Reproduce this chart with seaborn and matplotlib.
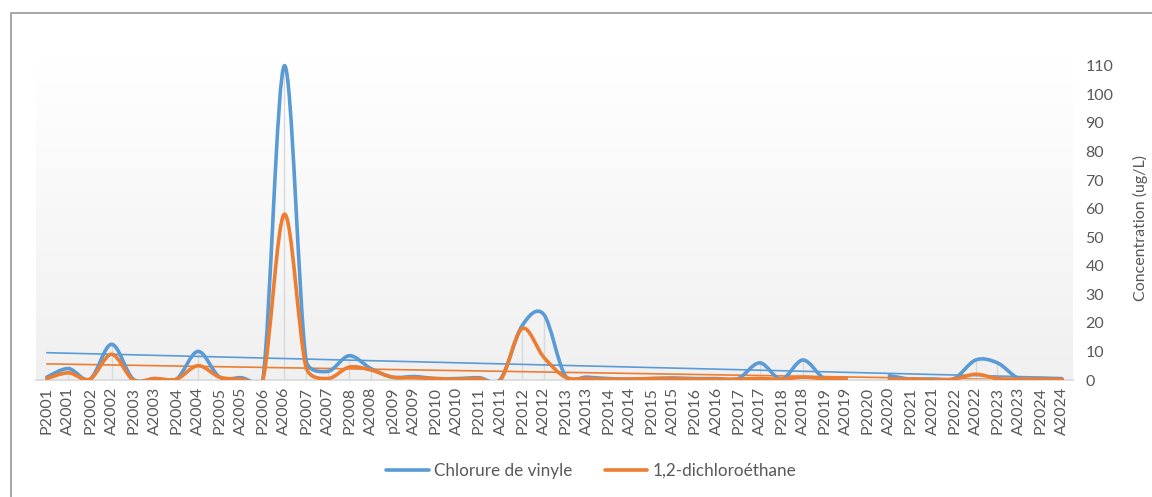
import numpy as np
import matplotlib
matplotlib.use("Agg")
import matplotlib.pyplot as plt
import seaborn as sns
from matplotlib.path import Path
from matplotlib.patches import PathPatch
from matplotlib.lines import Line2D

# --- données ---
periods = ["P2001", "A2001", "P2002", "A2002", "P2003", "A2003", "P2004", "A2004",
           "P2005", "A2005", "P2006", "A2006", "P2007", "A2007", "P2008", "A2008",
           "p2009", "A2009", "P2010", "A2010", "P2011", "A2011", "P2012", "A2012",
           "P2013", "A2013", "P2014", "A2014", "P2015", "A2015", "P2016", "A2016",
           "P2017", "A2017", "P2018", "A2018", "P2019", "A2019", "P2020", "A2020",
           "P2021", "A2021", "P2022", "A2022", "P2023", "A2023", "P2024", "A2024"]

chlorure_vinyle = [1.0, 4.0, 0.3, 12.5, 0.3, 0.5, 0.3, 10.0,
                   1.0, 0.8, 0.0, 110.0, 7.0, 3.0, 8.5, 4.0,
                   1.0, 1.2, 0.5, 0.5, 0.8, 0.3, 19.0, 23.0,
                   1.5, 1.0, 0.5, 0.3, 0.5, 0.7, 0.5, 0.5,
                   0.5, 6.0, 0.3, 7.0, 0.5, 0.5, np.nan, 1.5,
                   0.3, 0.3, 0.5, 7.0, 6.0, 0.5, 0.5, 0.3]

dichloroethane = [0.5, 2.5, 0.3, 9.0, 0.0, 0.5, 0.3, 5.0,
                  1.0, 0.3, 0.0, 58.0, 4.5, 0.5, 4.5, 3.5,
                  1.0, 0.8, 0.5, 0.3, 0.5, 0.0, 18.0, 8.0,
                  1.0, 0.5, 0.3, 0.3, 0.5, 0.5, 0.3, 0.3,
                  0.3, 0.5, 0.3, 1.0, 0.5, 0.5, np.nan, 0.3,
                  0.3, 0.0, 0.3, 2.0, 0.5, 0.3, 0.3, 0.2]

y_ticks = list(range(0, 111, 10))

BLUE = "#5B9BD5"
ORANGE = "#ED7D31"
TXT = "#595959"

sns.set_theme(style="white")
plt.rcParams["font.family"] = ["Lato", "DejaVu Sans"]

W, H = 1152, 497
AX_L, AX_R, AX_B, AX_T = 36, 1073, 380, 60
YMAX = 112


def smooth_path(xs, ys, sx, sy):
    # courbe lissée façon Excel : Bézier type Catmull-Rom, tangentes bornées
    # par la longueur du segment (mesurée en pixels), coupée aux valeurs manquantes
    pts = np.column_stack([xs, ys])
    segments, seg = [], []
    for p in pts:
        if np.isnan(p[1]):
            if seg:
                segments.append(np.array(seg))
            seg = []
        else:
            seg.append(p)
    if seg:
        segments.append(np.array(seg))
    scale = np.array([sx, sy])
    verts, codes = [], []
    for s in segments:
        n = len(s)
        verts.append(s[0])
        codes.append(Path.MOVETO)
        for k in range(n - 1):
            p0 = s[k - 1] if k > 0 else s[k]
            p1, p2 = s[k], s[k + 1]
            p3 = s[k + 2] if k + 2 < n else s[k + 1]
            L = np.linalg.norm((p2 - p1) * scale)
            t1 = (p2 - p0) / 6.0
            t2 = (p3 - p1) / 6.0
            for t in (t1, t2):
                m = np.linalg.norm(t * scale)
                if m > 0.5 * L:
                    t *= 0.5 * L / m
            verts += [p1 + t1, p2 - t2, p2]
            codes += [Path.CURVE4] * 3
    return Path(verts, codes)


fig = plt.figure(figsize=(11.52, 4.97), dpi=100)
ax = fig.add_axes([AX_L / W, 1 - AX_B / H, (AX_R - AX_L) / W, (AX_B - AX_T) / H])

x = np.arange(len(periods))
cv = np.array(chlorure_vinyle)
dce = np.array(dichloroethane)

# fond en dégradé de la zone de traçage
grad = np.linspace(1, 0, 256).reshape(-1, 1)
ax.imshow(grad, extent=[0, 1, 0, 1], transform=ax.transAxes, aspect="auto",
          cmap=matplotlib.colors.LinearSegmentedColormap.from_list("g", ["#f0f0f0", "#ffffff"]),
          zorder=0)

# lignes de projection
ax.vlines(x, 0, np.fmax(cv, dce), color="#d9d9d9", lw=1.0, zorder=1)

# courbes lissées
px_x = (AX_R - AX_L) / len(periods)
px_y = (AX_B - AX_T) / YMAX
for vals, col in [(cv, BLUE), (dce, ORANGE)]:
    ax.add_patch(PathPatch(smooth_path(x.astype(float), vals, px_x, px_y), fill=False,
                           edgecolor=col, lw=2.6, capstyle="round", joinstyle="round", zorder=3))

# courbes de tendance linéaires
sns.regplot(x=x, y=cv, scatter=False, ci=None, ax=ax,
            line_kws=dict(color=BLUE, lw=1.2, zorder=2))
sns.regplot(x=x, y=dce, scatter=False, ci=None, ax=ax,
            line_kws=dict(color=ORANGE, lw=1.2, zorder=2))

ax.set_xlim(-0.5, len(periods) - 0.5)
ax.set_ylim(0, YMAX)
ax.set_xticks(x)
ax.set_xticklabels(periods, rotation=90, fontsize=11.5, color=TXT)
ax.yaxis.tick_right()
ax.set_yticks(y_ticks)
ax.set_yticklabels([str(v) for v in y_ticks], fontsize=11.5, color=TXT)
ax.tick_params(axis="both", length=0)
ax.tick_params(axis="y", pad=9)
ax.tick_params(axis="x", pad=5)
ax.set_xlabel("")
ax.set_ylabel("Concentration (ug/L)", fontsize=11.5, color=TXT, rotation=90)
ax.yaxis.set_label_position("right")
ax.yaxis.set_label_coords((1133 - AX_L) / (AX_R - AX_L), (AX_B - 228) / (AX_B - AX_T))
for side in ["top", "left", "right"]:
    ax.spines[side].set_visible(False)
ax.spines["bottom"].set_color("#d9d9d9")
ax.grid(False)

handles = [Line2D([], [], color=BLUE, lw=2.6), Line2D([], [], color=ORANGE, lw=2.6)]
fig.legend(handles, ["Chlorure de vinyle", "1,2-dichloroéthane"], loc="center",
           bbox_to_anchor=(591 / W, 1 - 471 / H), ncol=2, frameon=False,
           fontsize=12.3, handlelength=2.5, handletextpad=0.3, columnspacing=1.9,
           labelcolor=TXT)

# cadre du graphique (bords gauche et haut visibles)
fig.add_artist(Line2D([10.5 / W, 10.5 / W, 1.0], [0.0, 1 - 12.5 / H, 1 - 12.5 / H],
                      transform=fig.transFigure, color="#a6a6a6", lw=1.4))

fig.savefig("out.png", dpi=100)
